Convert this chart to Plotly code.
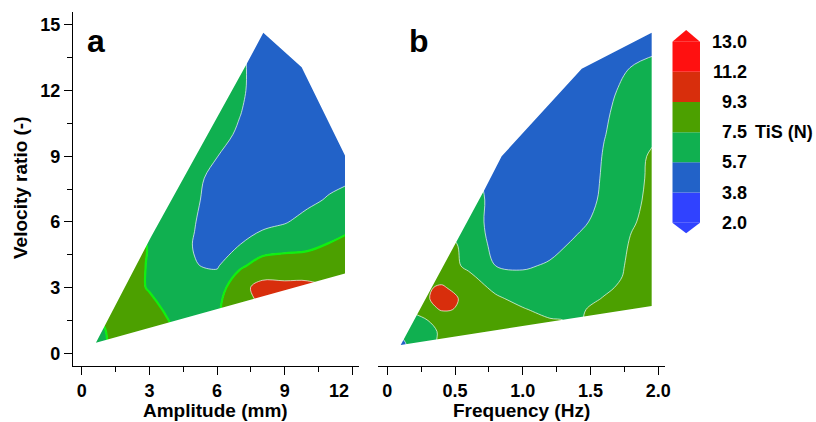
import plotly.graph_objects as go

# ---------------- data ----------------
# panel a : amplitude (mm) vs velocity ratio, TiS (N)
amp = [0, 1, 2, 3, 4, 5, 6, 7, 8, 9, 10, 11, 12]
vr_a = [0, 1, 2, 3, 4, 5, 6, 7, 8, 9, 10, 11, 12, 13, 14, 15]
tis_a = [
    [7.0, 7.4, 8.0, 8.0, 7.7, 7.2, 7.4, 8.2, 9.0, 9.2, 9.2, 9.0, 8.7],
    [7.0, 7.45, 8.1, 8.0, 7.6, 7.0, 7.3, 8.3, 9.2, 9.4, 9.3, 9.0, 8.7],
    [7.2, 7.7, 8.1, 7.9, 7.2, 6.6, 7.3, 8.6, 9.4, 9.6, 9.5, 9.1, 8.7],
    [7.5, 7.9, 8.0, 7.4, 6.6, 6.1, 6.6, 8.8, 9.9, 9.8, 9.8, 9.2, 8.6],
    [7.7, 8.0, 8.0, 7.4, 6.4, 5.72, 5.5, 7.2, 8.2, 8.3, 8.3, 8.2, 8.1],
    [7.5, 7.7, 7.8, 7.45, 6.3, 5.6, 5.0, 5.6, 6.6, 6.9, 7.1, 7.55, 7.9],
    [7.2, 7.4, 7.5, 7.1, 6.3, 5.72, 4.9, 4.8, 5.1, 5.55, 6.2, 6.8, 7.2],
    [7.0, 7.1, 7.2, 7.0, 6.4, 5.9, 5.0, 4.7, 4.6, 4.8, 5.3, 5.85, 6.3],
    [6.9, 7.0, 7.0, 6.9, 6.7, 6.1, 5.1, 4.6, 4.4, 4.5, 4.8, 5.2, 5.5],
    [6.9, 6.9, 6.9, 6.9, 6.8, 6.3, 5.7, 4.7, 4.4, 4.3, 4.5, 4.7, 5.0],
    [6.9, 6.9, 6.9, 6.9, 6.8, 6.7, 6.3, 5.4, 4.5, 4.3, 4.3, 4.5, 4.7],
    [6.9, 6.9, 6.9, 6.9, 6.8, 6.7, 6.5, 5.75, 4.7, 4.3, 4.3, 4.4, 4.6],
    [6.9, 6.9, 6.9, 6.9, 6.8, 6.7, 6.6, 6.0, 4.8, 4.4, 4.3, 4.4, 4.5],
    [6.9, 6.9, 6.9, 6.9, 6.8, 6.7, 6.6, 6.0, 4.9, 4.5, 4.4, 4.4, 4.5],
    [6.9, 6.9, 6.9, 6.9, 6.8, 6.7, 6.6, 5.9, 5.0, 4.6, 4.5, 4.5, 4.5],
    [6.9, 6.9, 6.9, 6.9, 6.8, 6.7, 6.6, 5.8, 5.0, 4.7, 4.6, 4.5, 4.5],
]
# measured domain outline, panel a
dom_a_x = [0.63, 3.06, 7.31, 8.05, 9.75, 11.67, 11.67]
dom_a_y = [0.48, 5.29, 13.22, 14.64, 13.07, 9.04, 3.65]

# panel b : frequency (Hz) vs velocity ratio, TiS (N)
freq = [0, 0.2, 0.4, 0.6, 0.8, 1.0, 1.2, 1.4, 1.6, 1.8, 2.0]
vr_b = [0, 0.5, 1, 1.5, 2, 2.5, 3, 3.5, 4, 5, 6, 7, 8, 9, 10, 11, 12, 13, 14, 15]
tis_b = [
    [4.5, 6.0, 7.6, 8.0, 8.0, 8.0, 7.6, 7.3, 7.6, 8.0, 8.3],
    [4.8, 6.1, 7.8, 8.1, 8.1, 8.0, 7.6, 7.3, 7.6, 8.0, 8.3],
    [5.3, 6.5, 7.7, 8.1, 8.1, 8.0, 7.7, 7.4, 7.6, 8.0, 8.3],
    [6.0, 7.0, 8.0, 8.4, 8.2, 8.0, 7.6, 7.4, 7.8, 8.0, 8.3],
    [6.8, 7.8, 9.5, 9.1, 8.3, 7.6, 7.1, 7.3, 7.9, 8.1, 8.4],
    [7.2, 8.2, 10.2, 8.8, 7.7, 7.1, 6.6, 6.8, 7.6, 8.1, 8.4],
    [7.6, 8.7, 9.6, 8.2, 7.2, 6.6, 6.2, 6.4, 7.2, 8.0, 8.4],
    [7.8, 8.3, 8.6, 7.7, 6.9, 6.1, 5.9, 6.0, 6.9, 7.8, 8.3],
    [7.9, 8.2, 8.0, 7.3, 5.65, 5.4, 5.9, 6.3, 6.9, 7.7, 8.2],
    [7.8, 7.9, 7.9, 7.2, 5.0, 4.6, 5.0, 6.0, 6.7, 7.6, 8.0],
    [7.6, 7.5, 7.3, 6.8, 4.8, 4.2, 4.4, 5.2, 6.3, 7.4, 7.9],
    [7.4, 7.3, 7.0, 6.8, 4.9, 4.0, 4.1, 4.7, 6.0, 7.3, 7.8],
    [7.2, 7.1, 6.9, 6.6, 4.6, 4.0, 4.0, 4.4, 5.9, 7.3, 7.7],
    [7.0, 6.9, 6.7, 6.4, 4.6, 4.0, 3.9, 4.2, 5.8, 7.1, 7.8],
    [6.9, 6.8, 6.5, 6.0, 4.6, 4.0, 3.9, 4.2, 5.6, 6.6, 7.4],
    [6.8, 6.6, 6.3, 5.8, 4.7, 4.1, 4.0, 4.3, 5.45, 6.4, 7.0],
    [6.7, 6.5, 6.2, 5.6, 4.8, 4.2, 4.1, 4.4, 5.2, 6.2, 6.8],
    [6.5, 6.3, 6.0, 5.5, 4.9, 4.3, 4.2, 4.4, 4.8, 5.75, 6.4],
    [6.4, 6.2, 5.9, 5.5, 5.0, 4.4, 4.3, 4.4, 4.6, 4.9, 5.3],
    [6.3, 6.1, 5.8, 5.4, 5.0, 4.5, 4.4, 4.4, 4.5, 4.7, 5.0],
]
dom_b_x = [0.099, 0.721, 0.844, 1.435, 1.951, 1.951]
dom_b_y = [0.38, 7.52, 9.0, 13.0, 14.64, 2.16]

# colour levels of TiS (N)
level_start, level_end, n_bands = 2.0, 13.0, 6
level_labels = ["2.0", "3.8", "5.7", "7.5", "9.3", "11.2", "13.0"]
band_colors = ["#3042ff", "#2262c8", "#10b050", "#4ca000", "#d82e0c", "#ff1010"]
tick_colors = ["#3042ff", "#2262e0", "#20a0a0", "#20e020", "#8a9a00", "#f01818", "#ff1010"]

amp_ticks = [0, 3, 6, 9, 12]
amp_ticktext = ["0", "3", "6", "9", "12\u2002\u2002\u2002"]
freq_ticks = [0, 0.5, 1.0, 1.5, 2.0]
freq_ticktext = ["0", "0.5", "1.0", "1.5", "2.0"]
vr_ticks = [0, 3, 6, 9, 12, 15]

# ---------------- figure ----------------
W, H = 816, 422
FONT = "Liberation Sans, Arial, sans-serif"
size = (level_end - level_start) / n_bands
ncol = n_bands + 2
colorscale = [[0.0, band_colors[0]]]
for k, c in enumerate(band_colors):
    colorscale.append([(k + 1) / (ncol - 1), c])
colorscale.append([1.0, band_colors[-1]])

contours = dict(start=level_start, end=level_end, size=size, coloring="fill", showlines=True)
white_line = dict(color="rgba(255,255,255,0.85)", width=0.8)

fig = go.Figure()
fig.add_trace(go.Contour(x=amp, y=vr_a, z=tis_a, xaxis="x", yaxis="y", autocontour=False,
                         contours=contours, colorscale=colorscale, showscale=False,
                         line=white_line, hoverinfo="skip"))
fig.add_trace(go.Contour(x=amp, y=vr_a, z=tis_a, xaxis="x", yaxis="y", autocontour=False,
                         contours=dict(start=7.5, end=7.5, size=1, coloring="none"),
                         line=dict(color="#10f010", width=2.2), showscale=False, hoverinfo="skip"))
fig.add_trace(go.Contour(x=freq, y=vr_b, z=tis_b, xaxis="x2", yaxis="y2", autocontour=False,
                         contours=contours, colorscale=colorscale, showscale=False,
                         line=white_line, hoverinfo="skip"))

XA_R = [-0.386, 12.305]
XB_R = [-0.0664, 2.0494]
Y_R = [-0.566, 15.605]


def mask(px, py, xr, yr, xa, ya):
    # white area outside the measured domain (outer box, then domain reversed)
    ox = [xr[0], xr[0], xr[1], xr[1], xr[0]]
    oy = [yr[0], yr[1], yr[1], yr[0], yr[0]]
    ix = [px[0]] + px[::-1]
    iy = [py[0]] + py[::-1]
    return go.Scatter(x=ox + ix + [xr[0]], y=oy + iy + [yr[0]], xaxis=xa, yaxis=ya,
                      mode="lines", fill="toself", fillcolor="white",
                      line=dict(width=0, color="white"), hoverinfo="skip")


fig.add_trace(mask(dom_a_x, dom_a_y, XA_R, Y_R, "x", "y"))
fig.add_trace(mask(dom_b_x, dom_b_y, XB_R, Y_R, "x2", "y2"))

# ---- colour bar (own axes) ----
fig.add_trace(go.Bar(x=[0.5] * n_bands, y=[1] * n_bands, base=list(range(n_bands)), width=1,
                     marker=dict(color=band_colors, line=dict(width=0)),
                     xaxis="x3", yaxis="y3", hoverinfo="skip"))
fig.add_trace(go.Scatter(x=[0, 0.5, 1, 0], y=[n_bands, n_bands + 0.39, n_bands, n_bands],
                         xaxis="x3", yaxis="y3", mode="lines", fill="toself",
                         fillcolor=band_colors[-1], line=dict(width=0), hoverinfo="skip"))
fig.add_trace(go.Scatter(x=[0, 0.5, 1, 0], y=[0, -0.35, 0, 0],
                         xaxis="x3", yaxis="y3", mode="lines", fill="toself",
                         fillcolor=band_colors[0], line=dict(width=0), hoverinfo="skip"))
fig.add_trace(go.Scatter(x=[1.09] * len(level_labels), y=list(range(len(level_labels))),
                         xaxis="x3", yaxis="y3", mode="markers", cliponaxis=False,
                         marker=dict(symbol="line-ew", size=6,
                                     line=dict(width=2, color=tick_colors)),
                         hoverinfo="skip"))


def px_x(p):
    return p / W


def px_y(p):
    return 1 - p / H


tickfont = dict(family=FONT, size=18, color="black", weight="bold")
axis_common = dict(showline=True, linecolor="black", linewidth=1.4, ticks="outside",
                   ticklen=8, tickwidth=1.4, tickcolor="black", showgrid=False,
                   zeroline=False, tickfont=tickfont, fixedrange=True, automargin=False)

fig.update_layout(
    width=W, height=H, autosize=False, margin=dict(l=0, r=0, t=0, b=0, pad=0),
    paper_bgcolor="white", plot_bgcolor="rgba(0,0,0,0)", showlegend=False,
    barmode="overlay",
    xaxis=dict(domain=[px_x(73), px_x(359.3)], range=XA_R, anchor="y",
               tickmode="array", tickvals=amp_ticks, ticktext=amp_ticktext,
               minor=dict(ticks="outside", ticklen=5, tickwidth=1.4, tickcolor="black",
                          tickvals=[1.5, 4.5, 7.5, 10.5]),
               **axis_common),
    yaxis=dict(domain=[px_y(365.7), px_y(11.7)], range=Y_R, anchor="x",
               tickmode="array", tickvals=vr_ticks,
               minor=dict(ticks="outside", ticklen=5, tickwidth=1.4, tickcolor="black",
                          tickvals=[1.5, 4.5, 7.5, 10.5, 13.5]),
               **axis_common),
    xaxis2=dict(domain=[px_x(378.3), px_x(665)], range=XB_R, anchor="y2",
                tickmode="array", tickvals=freq_ticks, ticktext=freq_ticktext,
                minor=dict(ticks="outside", ticklen=5, tickwidth=1.4, tickcolor="black",
                           tickvals=[0.25, 0.75, 1.25, 1.75]),
                **axis_common),
    yaxis2=dict(domain=[px_y(365.7), px_y(11.7)], range=Y_R, anchor="x2", visible=False,
                fixedrange=True, automargin=False),
    xaxis3=dict(domain=[px_x(672.3), px_x(700)], range=[0, 1], anchor="y3", visible=False,
                fixedrange=True, automargin=False),
    yaxis3=dict(domain=[px_y(240), px_y(25)], range=[-0.573, 6.553], anchor="x3",
                visible=False, fixedrange=True, automargin=False),
)

ann = []
titlefont = dict(family=FONT, size=19, color="black", weight="bold")
ann.append(dict(text="Amplitude (mm)", x=px_x(215), y=px_y(410), xref="paper", yref="paper",
                showarrow=False, font=titlefont, xanchor="center", yanchor="middle"))
ann.append(dict(text="Frequency (Hz)", x=px_x(521), y=px_y(410), xref="paper", yref="paper",
                showarrow=False, font=titlefont, xanchor="center", yanchor="middle"))
ann.append(dict(text="Velocity ratio (-)", x=px_x(20.5), y=px_y(187.5), xref="paper",
                yref="paper", showarrow=False, font=titlefont, textangle=-90,
                xanchor="center", yanchor="middle"))
panelfont = dict(family=FONT, size=32, color="black", weight="bold")
ann.append(dict(text="a", x=px_x(95.5), y=px_y(40.6), xref="paper", yref="paper",
                showarrow=False, font=panelfont, xanchor="center", yanchor="middle"))
ann.append(dict(text="b", x=px_x(419.5), y=px_y(40.6), xref="paper", yref="paper",
                showarrow=False, font=panelfont, xanchor="center", yanchor="middle"))
cbfont = dict(family=FONT, size=18, color="black", weight="bold")
for i, lab in enumerate(level_labels):
    ann.append(dict(text=lab, x=px_x(749), y=i, xref="paper", yref="y3", showarrow=False,
                    font=cbfont, xanchor="right", yanchor="middle"))
ann.append(dict(text="TiS (N)", x=px_x(753), y=3, xref="paper", yref="y3", showarrow=False,
                font=cbfont, xanchor="left", yanchor="middle"))
fig.update_layout(annotations=ann)

fig.write_html("out.html", config={"responsive": False})
